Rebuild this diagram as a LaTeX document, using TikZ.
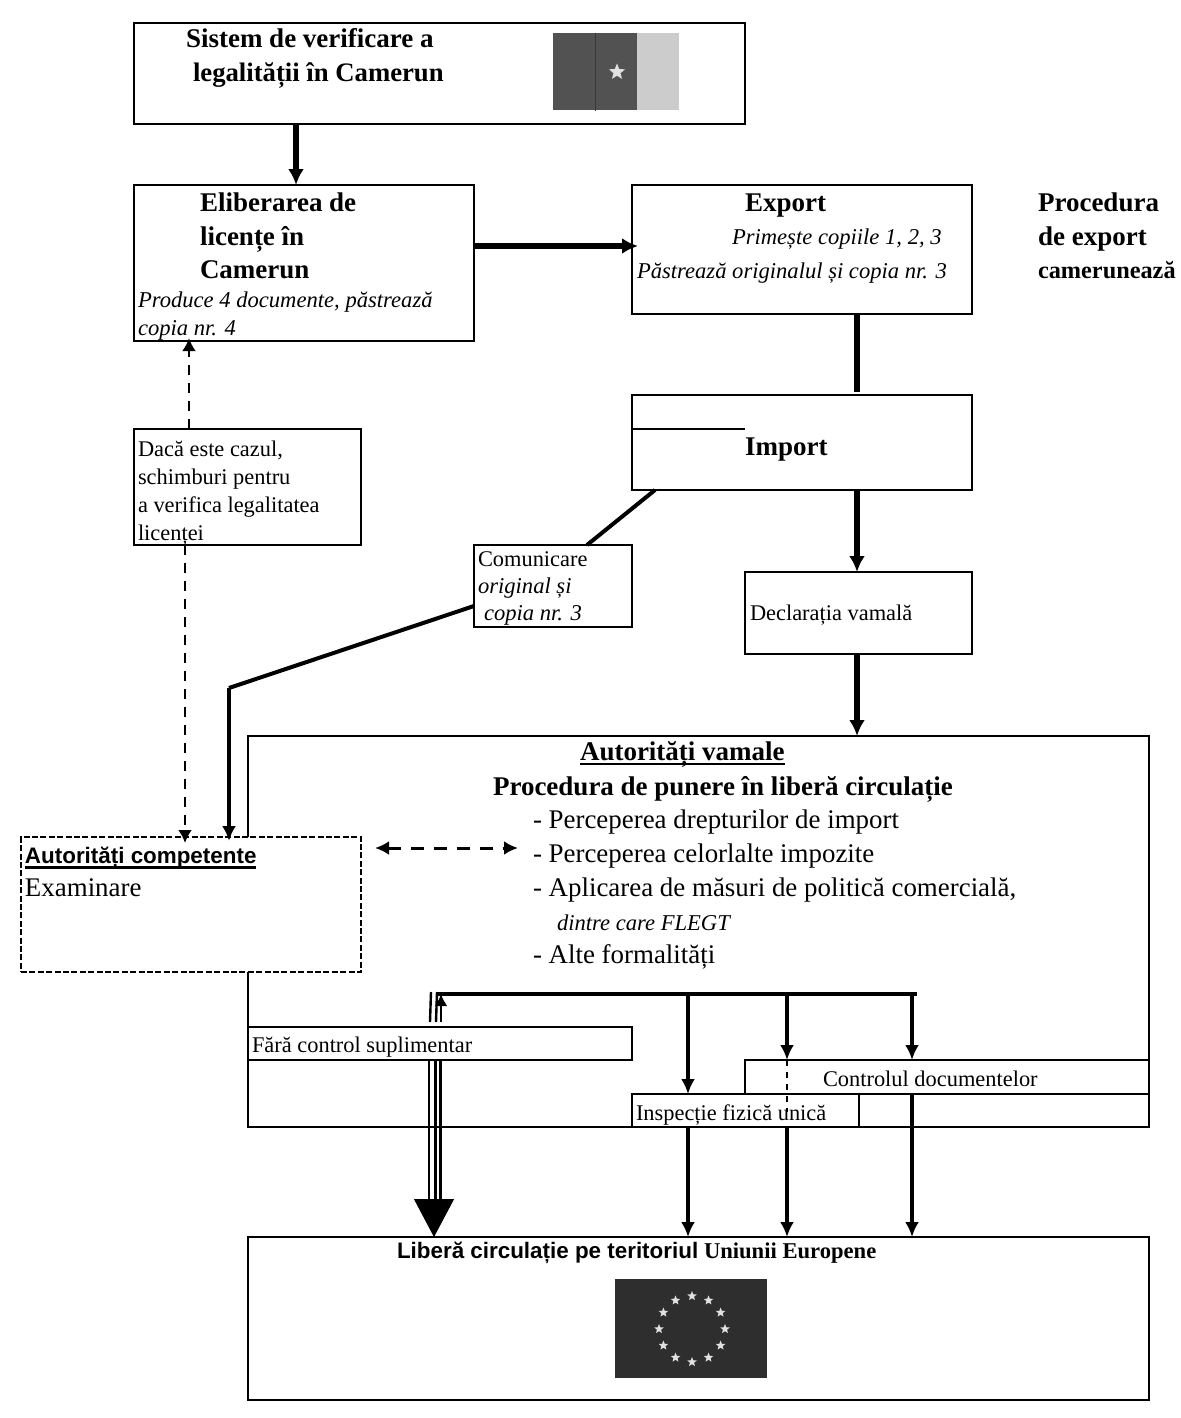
\documentclass[tikz,border=0pt]{standalone}
\usepackage{fontspec}
\setmainfont{Liberation Serif}
\setsansfont{Liberation Sans}
\usetikzlibrary{arrows.meta, shapes.geometric, calc}
\tikzset{box/.style={draw, line width=1.4pt, anchor=north west, inner sep=0, outer sep=0, fill=white}}
\tikzset{dashbox/.style={box, dash pattern=on 3pt off 1.2pt, line width=1.3pt}}
\tikzset{txt/.style={anchor=base west, inner sep=0, outer sep=0, font=\fontsize{11.2}{11.2}\selectfont}}
\tikzset{txtit/.style={txt, font=\fontsize{11.3}{11.3}\selectfont\itshape}}
\tikzset{txtbf/.style={txt, font=\fontsize{13.5}{13.5}\selectfont\bfseries}}
\tikzset{txtbig/.style={txt, font=\fontsize{13.45}{13.45}\selectfont}}
\tikzset{txtsf/.style={txt, font=\fontsize{11.2}{11.2}\selectfont\sffamily\bfseries}}
\tikzset{heavy/.style={line width=2.6pt}}
\tikzset{flow/.style={heavy, -{Latex[width=8pt,length=8pt]}}}
\tikzset{thinflow/.style={line width=1.8pt, -{Latex[width=7pt,length=7.5pt]}}}
\tikzset{dashflow/.style={line width=1.3pt, dash pattern=on 5pt off 4pt, -{Latex[width=7pt,length=6.5pt]}}}
\tikzset{goldstar/.style={star, star points=5, star point ratio=2.3, fill=#1, inner sep=0, outer sep=0}}
\tikzset{headline/.style={line width=1.2pt}}
\begin{document}
\begin{tikzpicture}[x=0.5pt, y=-0.5pt]
    \useasboundingbox (0, 0) rectangle (1181, 1418);
    % boxes
    \node[box, minimum width=305.5pt, minimum height=50.5pt] (cam) at (134, 23) {};
    \node[box, minimum width=170pt, minimum height=78pt] (elib) at (134, 185) {};
    \node[box, minimum width=170pt, minimum height=64.5pt] (exp) at (632, 185) {};
    \node[box, minimum width=170pt, minimum height=47.5pt] (imp) at (632, 395) {};
    \node[box, minimum width=113.5pt, minimum height=58pt] (daca) at (134, 429) {};
    \node[box, minimum width=79pt, minimum height=41pt] (com) at (474, 545) {};
    \node[box, minimum width=113.5pt, minimum height=41pt] (decl) at (745, 572) {};
    \node[box, minimum width=450.5pt, minimum height=195.5pt] (vam) at (248, 736) {};
    \node[dashbox, minimum width=170pt, minimum height=67.5pt] (comp) at (21, 837) {};
    \node[box, minimum width=192pt, minimum height=16.5pt] (fara) at (248, 1027) {};
    \node[box, minimum width=202pt, minimum height=17pt] (doc) at (745, 1060) {};
    \node[box, minimum width=113.5pt, minimum height=16.5pt] (insp) at (632, 1094) {};
    \node[box, minimum width=450.5pt, minimum height=81.5pt] (lib) at (248, 1237) {};
    \draw[line width=1.4pt] (imp.north west) ++(0, 34) coordinate (impl) -- (impl -| decl.west);

    % flags
    \node[anchor=north west, fill=black!68, minimum width=42pt, minimum height=38.5pt, inner sep=0] (flagl) at (553, 33) {};
    \node[anchor=north west, fill=black!20, minimum width=21pt, minimum height=38.5pt, inner sep=0] (flagr) at (637, 33) {};
    \draw[black!78, line width=0.9pt] (flagl.north) -- (flagl.south);
    \node[goldstar=black!12, minimum size=8.5pt] (camstar) at (617, 72) {};
    \node[anchor=north west, fill=black!82, minimum width=76pt, minimum height=49.5pt, inner sep=0] (euflag) at (615, 1279) {};
    \foreach \a in {0, 30, ..., 330}
        \node[goldstar=black!12, minimum size=5pt] (eu\a) at ($(692, 1329)+(\a:33)$) {};

    % text
    \node[txtbf] (t1) at (186, 48) {Sistem de verificare a};
    \node[txtbf, font=\fontsize{13.35}{13.35}\selectfont\bfseries] (t2) at (193, 82) {legalității în Camerun};
    \node[txtbf] (t3) at (200, 211) {Eliberarea de};
    \node[txtbf] (t4) at (200, 245) {licențe în};
    \node[txtbf] (t5) at (200, 278) {Camerun};
    \node[txtit] (t6) at (138, 307) {Produce 4 documente, păstrează};
    \node[txtit] (t7) at (138, 335) {copia nr. 4};
    \node[txtbf] (t8) at (745, 211) {Export};
    \node[txtit] (t9) at (732, 244) {Primește copiile 1, 2, 3};
    \node[txtit] (t10) at (637, 278) {Păstrează originalul și copia nr. 3};
    \node[txtbf] (t11) at (1038, 211) {Procedura};
    \node[txtbf] (t12) at (1038, 245) {de export};
    \node[txtbf, font=\fontsize{12.15}{12.15}\selectfont\bfseries] (t13) at (1038, 278) {camerunează};
    \node[txtbf] (t14) at (745, 455) {Import};
    \node[txt] (t15) at (138, 456) {Dacă este cazul,};
    \node[txt] (t16) at (138, 484) {schimburi pentru};
    \node[txt] (t17) at (138, 512) {a verifica legalitatea};
    \node[txt] (t18) at (138, 540) {licenței};
    \node[txt] (t19) at (478, 566) {Comunicare};
    \node[txtit] (t20) at (478, 593) {original și};
    \node[txtit] (t21) at (484, 620) {copia nr. 3};
    \node[txt] (t22) at (750, 620) {Declarația vamală};
    \node[txtbf] (t23) at (580, 760) {Autorități vamale};
    \node[txtbf] (t24) at (493, 795) {Procedura de punere în liberă circulație};
    \node[txtbig] (t25) at (533, 828) {- Perceperea drepturilor de import};
    \node[txtbig] (t26) at (533, 862) {- Perceperea celorlalte impozite};
    \node[txtbig] (t27) at (533, 896) {- Aplicarea de măsuri de politică comercială,};
    \node[txtit] (t28) at (557, 930) {dintre care FLEGT};
    \node[txtbig] (t29) at (533, 963) {- Alte formalități};
    \node[txtsf] (t30) at (25, 863) {Autorități competente};
    \node[txtbig] (t31) at (25, 896) {Examinare};
    \node[txt] (t32) at (252, 1052) {Fără control suplimentar};
    \node[txt] (t33) at (823, 1086) {Controlul documentelor};
    \node[txt] (t34) at (636, 1120) {Inspecție fizică unică};
    \node[txtsf] (t35) at (397, 1258) {Liberă circulație pe teritoriul};
    \node[txt, font=\fontsize{11.3}{11.3}\selectfont\bfseries] (t36) at (704, 1258) {Uniunii Europene};
    \draw[headline] ([yshift=-2pt]t23.base west) -- ([yshift=-2pt]t23.base east);
    \draw[headline] ([yshift=-2.2pt]t30.base west) -- ([yshift=-2.2pt]t30.base east);

    % connectors
    \coordinate (xa) at (296, 0);
    \coordinate (xb) at (857, 0);
    \coordinate (xc) at (189, 0);
    \coordinate (xd) at (185, 0);
    \coordinate (xe) at (229, 688);
    \coordinate (xf) at (688, 0);
    \coordinate (xg) at (787, 0);
    \coordinate (xh) at (912, 0);
    \coordinate (ya) at (0, 246);
    \coordinate (yb) at (0, 606);
    \coordinate (yc) at (0, 1198);
    \coordinate (impa) at (655, 490);
    \coordinate (coma) at (587, 545);
    \coordinate (impb) at (857, 392);
    \coordinate (insa) at (787, 1112);
    \coordinate (bigx) at (434, 0);
    \coordinate (barl) at (436, 994);
    \coordinate (barr) at (917, 994);
    \draw[flow] (xa |- cam.south) -- (xa |- elib.north);
    \draw[flow] (ya -| elib.east) -- ([xshift=3pt]ya -| exp.west);
    \draw[heavy] (xb |- exp.south) -- (impb);
    \draw[flow] (xb |- imp.south) -- (xb |- decl.north);
    \draw[flow] (xb |- decl.south) -- (xb |- vam.north);
    \draw[line width=2pt] (impa) -- (coma);
    \draw[line width=2pt] (yb -| com.west) -- (xe);
    \draw[thinflow] (xe) -- ([yshift=-2pt]xe |- comp.north);
    \draw[dashflow] (xc |- daca.north) -- ([yshift=1.5pt]xc |- elib.south);
    \draw[dashflow] (xd |- daca.south) -- ([yshift=-3pt]xd |- comp.north);
    \draw[line width=1.5pt, dash pattern=on 6.5pt off 5pt, {Latex[width=7pt,length=7pt]}-{Latex[width=7pt,length=7pt]}] (375, 848) -- (518, 848);
    \draw[line width=1.7pt] (barl) -- (barr);
    \draw[thinflow] (xf |- barl) -- (xf |- insp.north);
    \draw[thinflow] (xg |- barl) -- (xg |- doc.north);
    \draw[thinflow] (xh |- barl) -- (xh |- doc.north);
    \draw[line width=1.2pt, dashed] (xg |- doc.north) -- (insa);
    \draw[thinflow] (xf |- insp.south) -- (xf |- lib.north);
    \draw[thinflow] (xg |- insp.south) -- (xg |- lib.north);
    \draw[thinflow] (xh |- doc.south) -- (xh |- lib.north);
    \foreach \x in {430, 436}
        \draw[line width=1.2pt] (\x, 1022) -- (\x+1, 992);
    \draw[line width=1.2pt, -{Latex[width=6.5pt,length=6pt]}] (441, 1022) -- (441, 994);
    \foreach \x/\w in {429/0.8pt, 435/1.5pt, 440/1.5pt}
        \draw[line width=\w] (\x, 1060) -- (\x, 1200);
    \draw[line width=0.5pt, -{Triangle[width=20pt,length=19pt]}] (bigx |- yc) -- (bigx |- lib.north);
\end{tikzpicture}
\end{document}
